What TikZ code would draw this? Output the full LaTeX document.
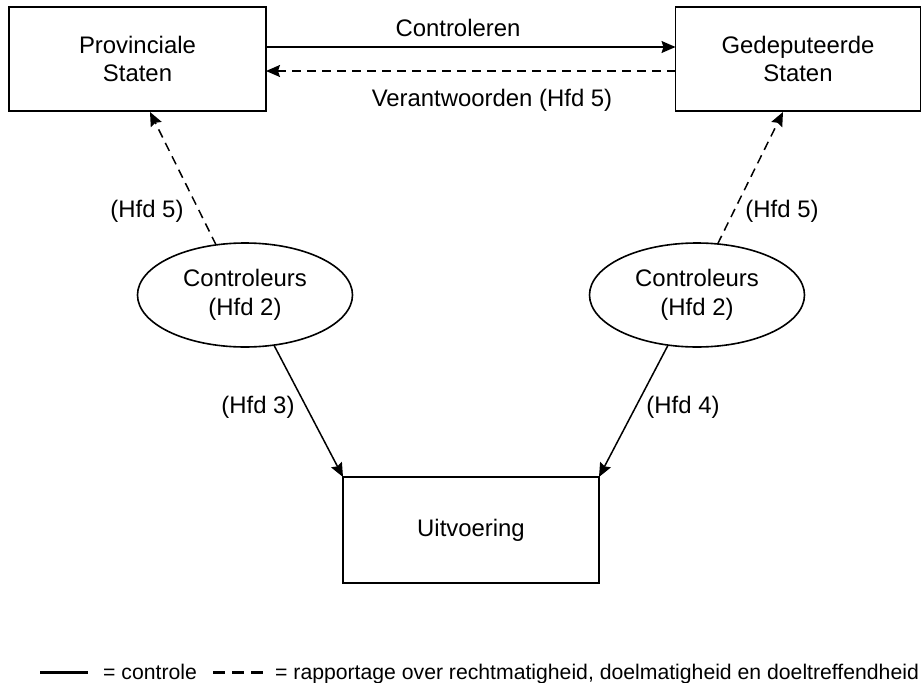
\documentclass[tikz,border=0pt]{standalone}
\usepackage{fontspec}
\setmainfont{Liberation Sans}
\usetikzlibrary{arrows.meta,shapes.geometric}
\tikzset{
  mainfont/.style={font=\fontsize{23.9}{28.5}\selectfont},
  legfont/.style={font=\fontsize{21.2}{25}\selectfont},
  box/.style={draw, line width=1.8pt, rectangle, inner sep=0pt, outer sep=0pt, align=center, mainfont},
  oval/.style={draw, line width=1.6pt, ellipse, minimum width=215pt, minimum height=104pt, inner sep=0pt, outer sep=0pt, align=center, mainfont},
  ctrl/.style={line width=1.5pt, -{Stealth[length=14pt,width=12pt,inset=2pt]}},
  rapp/.style={line width=1.5pt, dash pattern=on 9pt off 6pt, -{Stealth[length=14pt,width=12pt,inset=2pt]}},
  lbl/.style={mainfont, inner sep=0pt}
}
\begin{document}
\begin{tikzpicture}[x=1pt,y=-1pt]
\useasboundingbox (0,0) rectangle (922,683);
\node[box, minimum width=257pt, minimum height=104pt] (ps) at (137.5,59) {Provinciale\\Staten};
\node[box, minimum width=245pt, minimum height=104pt] (gs) at (798,59) {Gedeputeerde\\Staten};
\node[box, minimum width=256pt, minimum height=106pt] (u) at (471,530) {Uitvoering};
\node[oval] (cl) at (245,295) {Controleurs\\(Hfd 2)};
\node[oval] (cr) at (697,295) {Controleurs\\(Hfd 2)};

\coordinate (pstip) at (150,112);
\coordinate (gstip) at (783,112);

\draw[ctrl] ([yshift=12pt]ps.east) -- ([yshift=12pt]gs.west);
\draw[rapp] ([yshift=-12pt]gs.west) -- ([yshift=-12pt]ps.east);
\draw[rapp] (cl.120) -- (pstip);
\draw[rapp] (cr.68) -- (gstip);
\draw[ctrl] (cl.-60) -- (u.north west);
\draw[ctrl] (cr.-120) -- (u.north east);

\node[lbl] (l1) at (458,28) {Controleren};
\node[lbl] (l2) at (492,100) {Verantwoorden (Hfd 5)};
\node[lbl] (l3) at (147,211) {(Hfd 5)};
\node[lbl] (l4) at (782,211) {(Hfd 5)};
\node[lbl] (l5) at (258,407) {(Hfd 3)};
\node[lbl] (l6) at (683,407) {(Hfd 4)};

\coordinate (s1) at (40,672);
\coordinate (s2) at (88,672);
\coordinate (d1) at (213,672);
\coordinate (d2) at (263,672);
\draw[line width=3pt] (s1) -- (s2);
\draw[line width=3pt, dash pattern=on 12pt off 7pt] (d1) -- (d2);
\node[legfont, anchor=base west, inner sep=0pt] (t1) at (103,679) {= controle};
\node[legfont, anchor=base west, inner sep=0pt] (t2) at (275,679) {= rapportage over rechtmatigheid, doelmatigheid en doeltreffendheid};
\end{tikzpicture}
\end{document}
